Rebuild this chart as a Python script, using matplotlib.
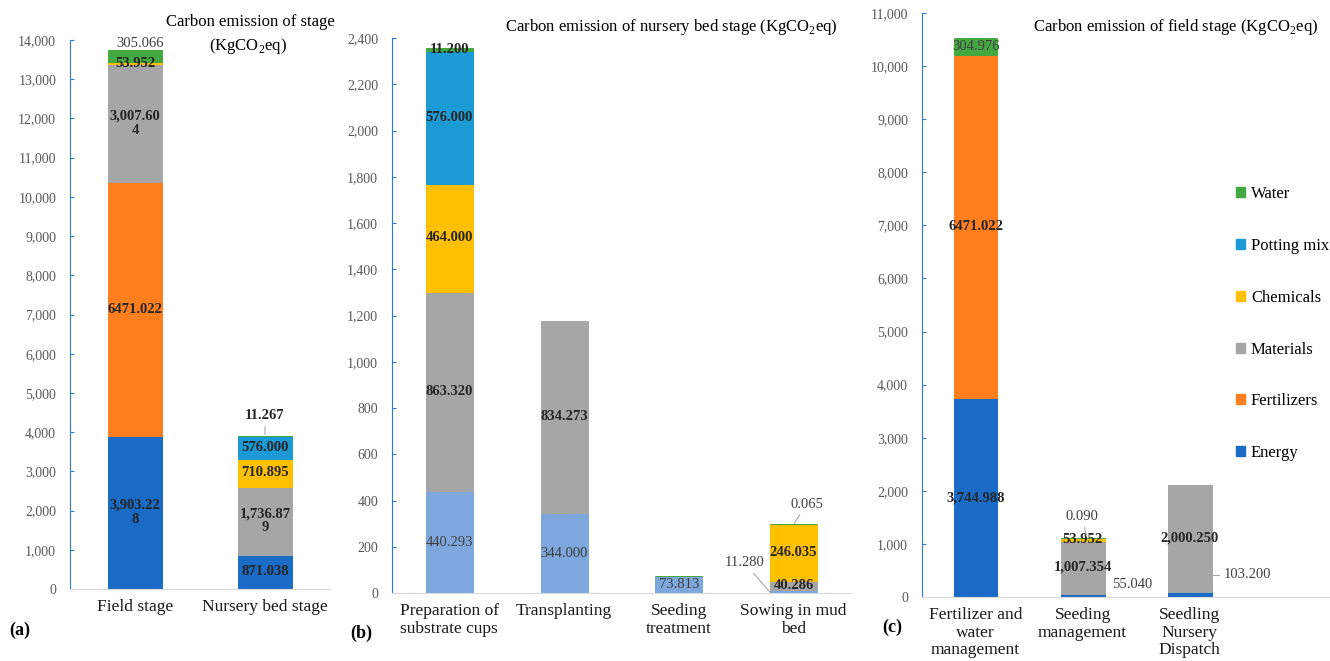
import numpy as np
import matplotlib
matplotlib.use("Agg")
import matplotlib.pyplot as plt
from matplotlib.patches import Patch
from matplotlib.ticker import FuncFormatter, MultipleLocator

plt.rcParams['font.family'] = ['Liberation Serif', 'DejaVu Serif']
plt.rcParams['mathtext.fontset'] = 'custom'
plt.rcParams['mathtext.rm'] = 'Liberation Serif'

# --- dados (KgCO2eq) ---
order = ['Energy', 'Fertilizers', 'Materials', 'Chemicals', 'Potting mix', 'Water']

# (a) por estágio
stage_cats = ['Field stage', 'Nursery bed stage']
stage_energy = [3903.228, 871.038]
stage_fert = [6471.022, 0]
stage_mat = [3007.604, 1736.879]
stage_chem = [53.952, 710.895]
stage_pot = [0, 576.000]
stage_water = [305.066, 11.267]

# (b) estágio de sementeira
bed_cats = ['Preparation of\nsubstrate cups', 'Transplanting', 'Seeding\ntreatment', 'Sowing in mud\nbed']
bed_energy = [440.293, 344.000, 73.813, 11.280]
bed_fert = [0, 0, 0, 0]
bed_mat = [863.320, 834.273, 0, 40.286]
bed_chem = [464.000, 0, 0, 246.035]
bed_pot = [576.000, 0, 0, 0]
bed_water = [11.200, 0, 1.5, 0.065]

# (c) estágio de campo
field_cats = ['Fertilizer and\nwater\nmanagement', 'Seeding\nmanagement', 'Seedling\nNursery\nDispatch']
field_energy = [3744.988, 55.040, 103.200]
field_fert = [6471.022, 0, 0]
field_mat = [0, 1007.354, 2000.250]
field_chem = [0, 53.952, 0]
field_pot = [0, 0, 0]
field_water = [304.976, 0.090, 0]

cores = {'Energy': '#1A6BC6', 'Fertilizers': '#FF7F1F', 'Materials': '#A6A6A6',
         'Chemicals': '#FFC000', 'Potting mix': '#1B9AD6', 'Water': '#44A840'}
azul_claro = '#7EA8DD'
eixo_azul = '#2E7CD6'
leader = dict(arrowstyle='-', color='#A6A6A6', lw=0.8, shrinkA=1, shrinkB=1)

W, H = 1330, 661
fig = plt.figure(figsize=(W / 100, H / 100), dpi=100)


def eixo(l, r, b, t):
    return fig.add_axes([l / W, 1 - b / H, (r - l) / W, (b - t) / H])


def rotulo(nome, v, quebra):
    s = f"{v:.3f}" if nome == 'Fertilizers' else f"{v:,.3f}"
    if quebra and len(s) > 8:
        s = s[:8] + '\n' + s[8:]
    return s


def pilha(ax, cats, dados, cor_energia, pular=(), quebra=False, leves=()):
    x = np.arange(len(cats))
    base = np.zeros(len(cats))
    bases = {}
    for nome in order:
        vals = np.array(dados[nome], float)
        cor = cor_energia if nome == 'Energy' else cores[nome]
        tem = vals > 0
        # sem contorno onde o valor é zero (senão aparece um traço)
        ax.bar(x[tem], vals[tem], 0.41, bottom=base[tem], color=cor, edgecolor=cor,
               linewidth=0.7, zorder=2)
        bases[nome] = base.copy()
        for i, v in enumerate(vals):
            if v > 0 and (nome, i) not in pular:
                leve = nome in leves
                ax.text(i, base[i] + v / 2, rotulo(nome, v, quebra), ha='center', va='center',
                        fontsize=10.5, linespacing=1.1,
                        fontweight='normal' if leve else 'bold',
                        color='#404040' if leve else '#262626', zorder=3)
        base += vals
    return bases, base


def fora(ax, nome, i, dados, xy, dx, dy, linha=True, estilo=None, negrito=False):
    v = dados[nome][i]
    props = None
    if linha:
        props = dict(leader)
        if estilo:
            props['connectionstyle'] = estilo
    ax.annotate(rotulo(nome, v, False), xy=xy, xytext=(dx, dy), textcoords='offset pixels',
                ha='center', va='center', fontsize=10.5,
                color='#262626' if negrito else '#404040',
                fontweight='bold' if negrito else 'normal',
                arrowprops=props, zorder=4, annotation_clip=False)


def estilo_eixo(ax, ymax, passo, cats, xmax):
    ax.set_ylim(0, ymax)
    ax.set_xlim(-0.5, xmax)
    ax.yaxis.set_major_locator(MultipleLocator(passo))
    ax.yaxis.set_major_formatter(FuncFormatter(lambda v, p: f"{v:,.0f}"))
    ax.set_xticks(np.arange(len(cats)))
    ax.set_xticklabels(cats, fontsize=12.5, color='#1A1A1A', linespacing=1.15)
    ax.tick_params(axis='x', length=0, pad=7)
    ax.tick_params(axis='y', direction='in', length=3, color=eixo_azul, labelsize=10,
                   labelcolor='#595959', pad=10)
    for s in ['top', 'right']:
        ax.spines[s].set_visible(False)
    ax.spines['left'].set_color(eixo_azul)
    ax.spines['bottom'].set_color('#D9D9D9')
    ax.patch.set_alpha(0)


# (a)
ax1 = eixo(70, 330, 589, 40)
d1 = dict(zip(order, [stage_energy, stage_fert, stage_mat, stage_chem, stage_pot, stage_water]))
b1, tot1 = pilha(ax1, stage_cats, d1, cores['Energy'], pular={('Water', 0), ('Water', 1)}, quebra=True)
fora(ax1, 'Water', 0, d1, (0, tot1[0]), 5, 7, linha=False)
fora(ax1, 'Water', 1, d1, (1, tot1[1]), 0, 20, negrito=True)
estilo_eixo(ax1, 14000, 1000, stage_cats, 1.5)

# (b)
ax2 = eixo(392, 851, 593, 38)
d2 = dict(zip(order, [bed_energy, bed_fert, bed_mat, bed_chem, bed_pot, bed_water]))
b2, tot2 = pilha(ax2, bed_cats, d2, azul_claro,
                 pular={('Water', 2), ('Water', 3), ('Energy', 3)}, leves={'Energy'})
fora(ax2, 'Water', 3, d2, (3, tot2[3]), 13, 20)
fora(ax2, 'Energy', 3, d2, (3 - 0.2, 0), -26, 30)
estilo_eixo(ax2, 2400, 200, bed_cats, 3.5)

# (c)
ax3 = eixo(922, 1330, 597, 13)
d3 = dict(zip(order, [field_energy, field_fert, field_mat, field_chem, field_pot, field_water]))
b3, tot3 = pilha(ax3, field_cats, d3, cores['Energy'],
                 pular={('Water', 1), ('Energy', 1), ('Energy', 2)}, leves={'Water'})
fora(ax3, 'Water', 1, d3, (1.04, tot3[1]), -5, 21)
fora(ax3, 'Energy', 1, d3, (1, b3['Energy'][1] + field_energy[1] / 2), 50, 11, linha=False)
fora(ax3, 'Energy', 2, d3, (2.2, field_energy[2]), 36, 17,
     estilo='angle,angleA=0,angleB=90,rad=0')
estilo_eixo(ax3, 11000, 1000, field_cats, 3.31)

# títulos
fig.text(250 / W, 1 - 22 / H, 'Carbon emission of stage', ha='center', va='center', fontsize=12)
fig.text(248 / W, 1 - 46 / H, r'(KgCO$_\mathrm{2}$eq)', ha='center', va='center', fontsize=12)
fig.text(671 / W, 1 - 27 / H, r'Carbon emission of nursery bed stage (KgCO$_\mathrm{2}$eq)',
         ha='center', va='center', fontsize=12)
fig.text(1176 / W, 1 - 27 / H, r'Carbon emission of field stage (KgCO$_\mathrm{2}$eq)',
         ha='center', va='center', fontsize=12)

# letras dos painéis
for txt, px, py in [('(a)', 20, 630), ('(b)', 361, 633), ('(c)', 892, 627)]:
    fig.text(px / W, 1 - py / H, txt, ha='center', va='center', fontsize=13, fontweight='bold')

# legenda
leg_ordem = ['Water', 'Potting mix', 'Chemicals', 'Materials', 'Fertilizers', 'Energy']
handles = [Patch(facecolor=cores[n], edgecolor=cores[n], label=n) for n in leg_ordem]
fig.legend(handles=handles, loc='upper left', bbox_to_anchor=(1236 / W, 1 - 186 / H),
           frameon=False, fontsize=12, handlelength=0.55, handleheight=0.55,
           handletextpad=0.35, labelspacing=2.15, borderpad=0, borderaxespad=0)

fig.savefig('out.png', dpi=100)
